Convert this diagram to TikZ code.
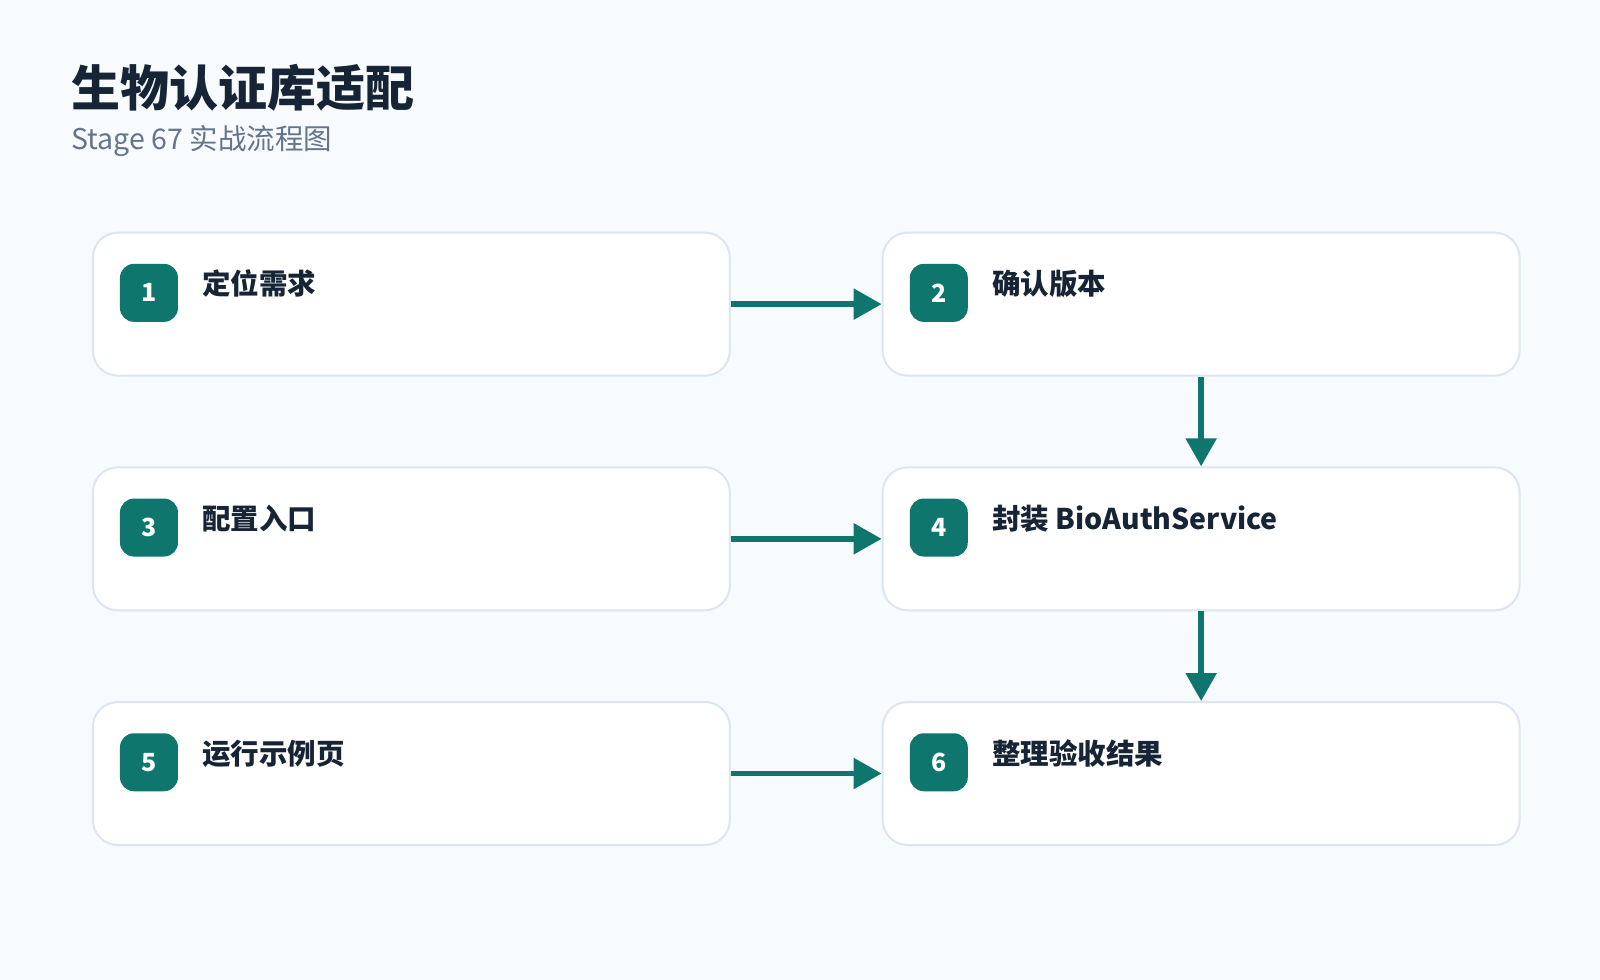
\documentclass[tikz,border=0pt]{standalone}
\usepackage{fontspec}
\setmainfont{Noto Sans CJK SC}
\usetikzlibrary{arrows.meta}
\definecolor{bg}{HTML}{F8FBFE}
\definecolor{bd}{HTML}{DCE6F0}
\definecolor{teal}{HTML}{0F766E}
\definecolor{ink}{HTML}{172435}
\definecolor{sub}{HTML}{64748B}
\begin{document}
\begin{tikzpicture}[x=1.0204pt,y=-1.0204pt,
 box/.style={draw=bd,line width=2pt,fill=white,rounded corners=25pt,minimum width=637pt,minimum height=143pt,anchor=north west,inner sep=0pt},
 badge/.style={fill=teal,rounded corners=14pt,minimum width=58pt,minimum height=58pt,text=white,font=\fontsize{25}{25}\selectfont\bfseries,inner sep=0pt},
 lab/.style={anchor=base west,text=ink,font=\fontsize{28.5}{28.5}\selectfont\bfseries,inner sep=0pt},
 arr/.style={draw=teal,line width=5.5pt,-{Triangle[length=28pt,width=30pt]}}]
\fill[bg] (0,0) rectangle (1568,960.4);
\useasboundingbox (0,0) rectangle (1568,960.4);
\node[anchor=base west,inner sep=0pt,text=ink,font=\fontsize{49}{49}\selectfont\bfseries] (title) at (70,104) {生物认证库适配};
\node[anchor=base west,inner sep=0pt,text=sub,font=\fontsize{28.5}{28.5}\selectfont] (subt) at (70,147) {Stage 67 实战流程图};
\foreach \n/\x/\y/\t in {1/90/227/定位需求,2/864/227/确认版本,3/90/457/配置入口,4/864/457/封装 BioAuthService,5/90/687/运行示例页,6/864/687/整理验收结果}{
 \node[box] (b\n) at (\x,\y) {};
 \node[badge] (n\n) at (\x+56,\y+60) {\n};
 \node[lab] (l\n) at (\x+108,\y+62) {\t};
}
\draw[arr] (b1.east) -- (b2.west);
\draw[arr] (b3.east) -- (b4.west);
\draw[arr] (b5.east) -- (b6.west);
\draw[arr] (b2.south) -- (b4.north);
\draw[arr] (b4.south) -- (b6.north);
\end{tikzpicture}
\end{document}
